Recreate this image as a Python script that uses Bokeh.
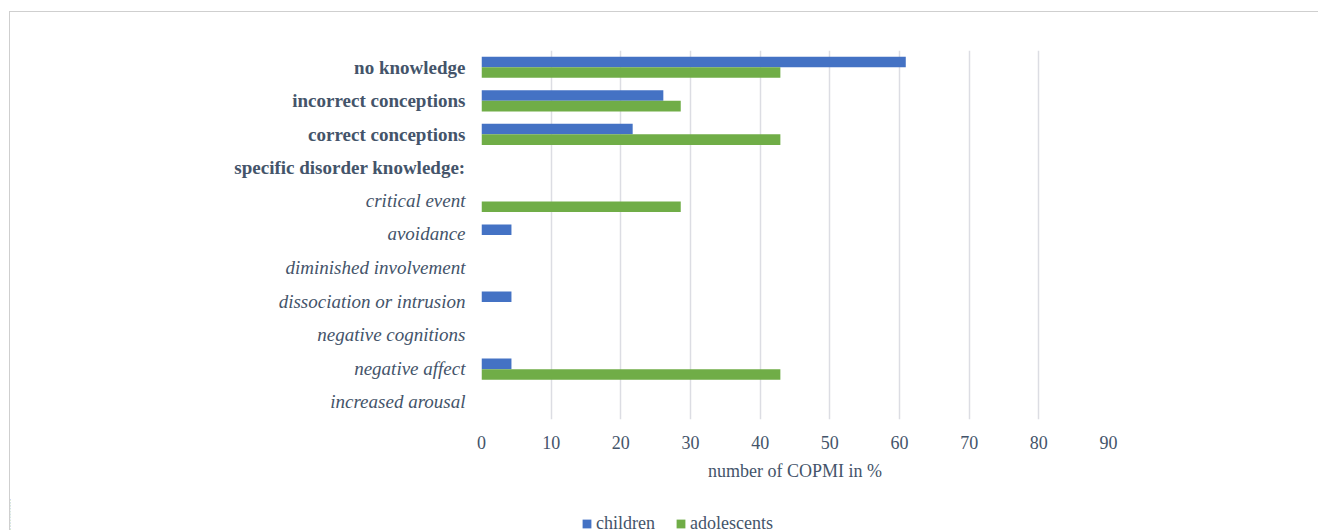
from bokeh.plotting import figure
from bokeh.layouts import row, column
from bokeh.models import ColumnDataSource, Legend, LegendItem, FixedTicker, Range1d, FactorRange
from bokeh.embed import file_html
from bokeh.resources import INLINE

categories = ["no knowledge", "incorrect conceptions", "correct conceptions",
              "specific disorder knowledge:", "critical event", "avoidance",
              "diminished involvement", "dissociation or intrusion",
              "negative cognitions", "negative affect", "increased arousal"]
children = [60.9, 26.1, 21.7, 0, 0, 4.3, 0, 4.3, 0, 4.3, 0]
adolescents = [42.9, 28.6, 42.9, 0, 28.6, 0, 0, 0, 0, 42.9, 0]
label_styles = ["bold", "bold", "bold", "bold", "italic", "italic", "italic",
                "italic", "italic", "italic", "italic"]
x_ticks = [0, 10, 20, 30, 40, 50, 60, 70, 80, 90]

TEXT = "#44546A"
FONT = "Liberation Serif"
LEGEND_FONT = "Times"
BAR_H = 0.315
BORDER = "1px solid #cfcfcf"
BLUE, GREEN = "#4472C4", "#70AD47"

n = len(categories)
centers = [i + 0.5 for i in range(n)]
src = ColumnDataSource(dict(cat=categories, children=children, adolescents=adolescents,
                            yb=[c - BAR_H / 2 for c in centers],
                            yg=[c + BAR_H / 2 for c in centers]))

TOP, BOTTOM, FRAME_H = 38, 80, 369
H = TOP + FRAME_H + BOTTOM
SLOT = FRAME_H / n


def label_panel(style, first):
    cats = [c for c, s in zip(categories, label_styles) if s == style]
    frame_h = round(SLOT * len(cats))
    top = TOP if first else 0
    bottom = 0 if first else BOTTOM
    f = figure(width=462, height=frame_h + top + bottom, output_backend="svg",
               toolbar_location=None, x_range=Range1d(0, 1), x_axis_type=None,
               y_range=FactorRange(factors=list(reversed(cats))))
    f.margin = (11, 0, 0, 9) if first else (0, 0, 0, 9)
    f.styles = {"border-left": BORDER, "border-top": BORDER} if first else {"border-left": BORDER}
    f.min_border_left = 461
    f.min_border_right = 0
    f.min_border_top = top
    f.min_border_bottom = bottom
    f.outline_line_color = None
    f.grid.visible = False
    ax = f.yaxis[0]
    ax.axis_line_color = None
    ax.major_tick_line_color = None
    ax.minor_tick_line_color = None
    ax.major_label_standoff = 0
    ax.major_label_text_font = FONT
    ax.major_label_text_font_size = "19px"
    ax.major_label_text_font_style = style
    ax.major_label_text_color = TEXT
    return f


pa = label_panel("bold", True)
pb = label_panel("italic", False)
pb.height = H - pa.height

# bar panel
p = figure(width=847, height=H, output_backend="svg", toolbar_location=None,
           y_range=Range1d(n, 0), x_range=Range1d(0, 90))
p.margin = (11, 0, 0, 0)
p.styles = {"border-top": BORDER}
p.min_border_left = 10
p.min_border_right = 210
p.min_border_top = TOP
p.min_border_bottom = BOTTOM
p.outline_line_color = None

p.hbar(y="yb", right="children", left=0, height=BAR_H,
       source=src, fill_color=BLUE, line_color=None)
p.hbar(y="yg", right="adolescents", left=0, height=BAR_H,
       source=src, fill_color=GREEN, line_color=None)

p.yaxis.visible = False
p.ygrid.visible = False
p.xgrid.grid_line_color = "#dcdde3"
p.xgrid.grid_line_width = 1.5
p.xaxis.ticker = FixedTicker(ticks=x_ticks)
p.xaxis.axis_line_color = None
p.xaxis.major_tick_line_color = None
p.xaxis.minor_tick_line_color = None
p.xaxis.major_label_standoff = 10
p.xaxis.major_label_text_font = FONT
p.xaxis.major_label_text_font_size = "18px"
p.xaxis.major_label_text_color = TEXT
p.xaxis.axis_label = "number of COPMI in %"
p.xaxis.axis_label_text_font = FONT
p.xaxis.axis_label_text_font_size = "18px"
p.xaxis.axis_label_text_font_style = "normal"
p.xaxis.axis_label_text_color = TEXT
p.xaxis.axis_label_standoff = 9

# legend strip (same series, drawn out of view so only the legend shows)
pl = figure(width=1309, height=531 - 12 - H, output_backend="svg", toolbar_location=None,
            x_range=Range1d(1000, 1001), y_range=Range1d(n, 0),
            x_axis_type=None, y_axis_type=None)
pl.margin = (0, 0, 0, 9)
pl.styles = {"border-left": BORDER}
pl.min_border_left = 0
pl.min_border_right = 0
pl.min_border_top = 0
pl.min_border_bottom = 0
pl.outline_line_color = None
pl.grid.visible = False
lb = pl.hbar(y="yb", right="children", left=0, height=BAR_H,
             source=src, fill_color=BLUE, line_color=None)
lg = pl.hbar(y="yg", right="adolescents", left=0, height=BAR_H,
             source=src, fill_color=GREEN, line_color=None)
legend = Legend(items=[LegendItem(label="children", renderers=[lb]),
                       LegendItem(label="adolescents", renderers=[lg])],
                orientation="horizontal", location=(571, -4),
                label_text_font=LEGEND_FONT, label_text_font_size="18px",
                label_text_color=TEXT,
                glyph_width=11, glyph_height=11, spacing=20, label_standoff=4,
                border_line_color=None, background_fill_alpha=0,
                padding=0, margin=0)
pl.add_layout(legend, "center")

layout = column(row(column(pa, pb, spacing=0), p, spacing=0), pl, spacing=0)
open("out.html", "w").write(file_html(layout, INLINE))
